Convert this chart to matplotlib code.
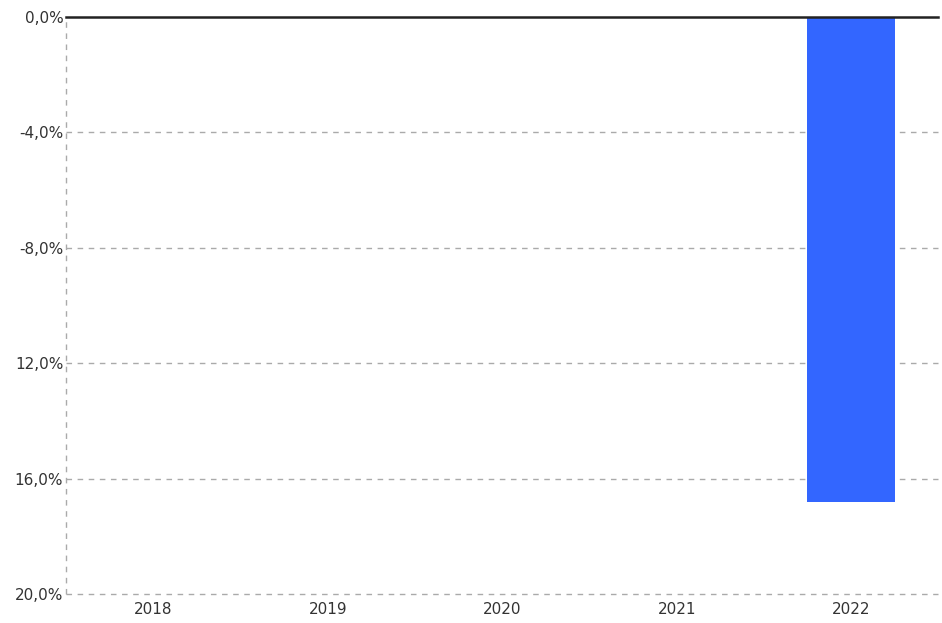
import matplotlib
matplotlib.use("Agg")
import matplotlib.pyplot as plt

# Chart data
years = ["2018", "2019", "2020", "2021", "2022"]
values = [0.0, 0.0, 0.0, 0.0, -16.8]
y_ticks = [0, -4, -8, -12, -16, -20]
y_tick_labels = ["0,0%", "-4,0%", "-8,0%", "12,0%", "16,0%", "20,0%"]

fig = plt.figure(figsize=(9.42, 6.23), dpi=100)
ax = fig.add_axes([0.0701, 0.0465, 0.926, 0.9262])

x = range(len(years))
ax.bar(x, values, width=0.5, color="#3366FF", zorder=3)

ax.set_xlim(-0.5, len(years) - 0.5)
ax.set_ylim(-20, 0)

ax.set_xticks(list(x))
ax.set_xticklabels(years)
ax.set_yticks(y_ticks)
ax.set_yticklabels(y_tick_labels)

# dashed grid on the value axis
for t in y_ticks[1:]:
    ax.axhline(t, color="#aaaaaa", linestyle=(0, (4, 4)), linewidth=1.0,
               zorder=1, clip_on=False)
ax.axvline(-0.5, color="#aaaaaa", linestyle=(0, (4, 4)), linewidth=1.0,
           zorder=1, clip_on=False)
ax.axhline(0, color="#222222", linewidth=1.8, zorder=4, clip_on=False)

for s in ax.spines.values():
    s.set_visible(False)

ax.tick_params(axis="both", length=0, labelsize=11, colors="#333333")
ax.tick_params(axis="y", pad=2)
ax.tick_params(axis="x", pad=6)

fig.savefig("out.png", dpi=100)
